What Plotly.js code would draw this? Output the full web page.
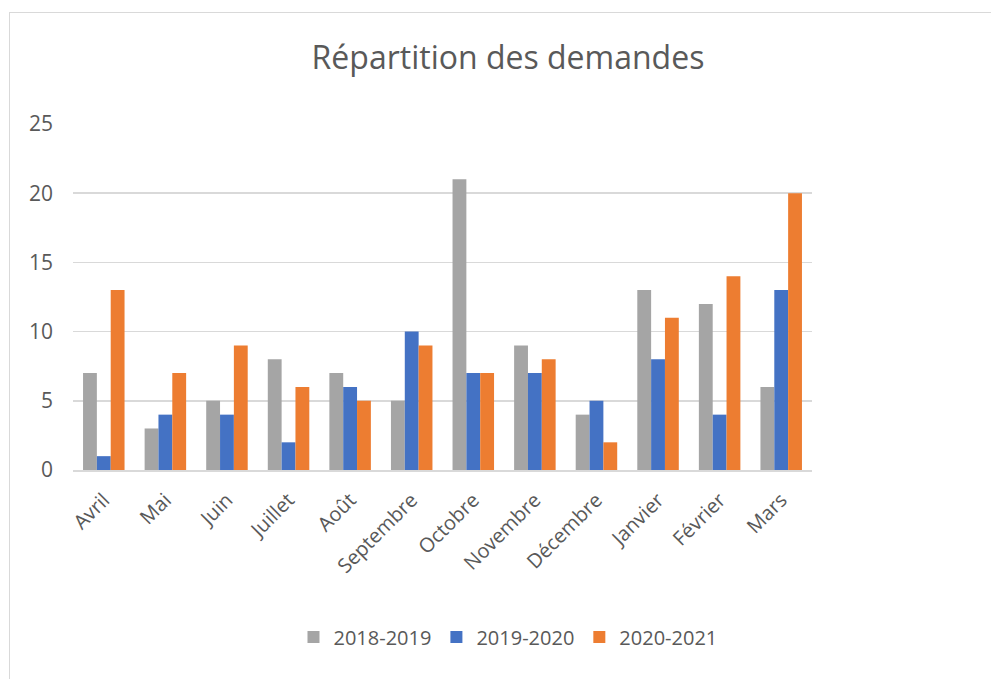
<!DOCTYPE html>
<html>
<head>
<meta charset="utf-8">
<script src="https://cdn.plot.ly/plotly-3.0.1.min.js"></script>
<style>
html,body{margin:0;padding:0;background:#fff;}
#frame{position:absolute;left:9px;top:12px;width:1100px;height:800px;border:1.5px solid #d9d9d9;box-sizing:border-box;}
#chart{position:absolute;left:0;top:0;width:991px;height:679px;}
</style>
</head>
<body>
<div id="frame"></div>
<div id="chart"></div>
<script>
const months = ["Avril","Mai","Juin","Juillet","Août","Septembre","Octobre","Novembre","Décembre","Janvier","Février","Mars"];
const s2018 = [7,3,5,8,7,5,21,9,4,13,12,6];
const s2019 = [1,4,4,2,6,10,7,7,5,8,4,13];
const s2020 = [13,7,9,6,5,9,7,8,2,11,14,20];
const seriesNames = ["2018-2019","2019-2020","2020-2021"];
const colors = ["#A5A5A5","#4472C4","#ED7D31"];
const font = "Open Sans, Noto Sans, sans-serif";

const data = [s2018,s2019,s2020].map((v,i)=>({
  type:"bar", x:months, y:v, name:seriesNames[i],
  marker:{color:colors[i]}
}));

const layout = {
  width:991, height:679,
  paper_bgcolor:"rgba(0,0,0,0)", plot_bgcolor:"rgba(0,0,0,0)",
  margin:{l:73, r:179, t:124, b:209},
  bargap:0.326, bargroupgap:0,
  font:{family:font, color:"#595959", size:19},
  title:{text:"Répartition des demandes", xref:"container", x:0.5126, xanchor:"center",
         yref:"container", y:1-58/679, yanchor:"middle",
         font:{family:font, size:32, color:"#595959"}},
  xaxis:{showline:true, linecolor:"#d9d9d9", linewidth:1.5, tickangle:-45,
         tickfont:{size:20, color:"#595959"}, ticks:"", showgrid:false, ticklabelstandoff:9},
  yaxis:{range:[0,25], dtick:5, tick0:0, showgrid:true, gridcolor:"#d9d9d9", gridwidth:1.5,
         zeroline:false, ticks:"", ticklabelstandoff:19,
         tickfont:{size:21, color:"#595959"}},
  legend:{orientation:"h", xref:"container", x:0.5126, xanchor:"center",
          yref:"container", y:1-637/679, yanchor:"middle",
          font:{size:20, color:"#595959"}, itemwidth:30, traceorder:"normal"},
  showlegend:true
};
Plotly.newPlot("chart", data, layout, {displayModeBar:false, staticPlot:true});
</script>
</body>
</html>
